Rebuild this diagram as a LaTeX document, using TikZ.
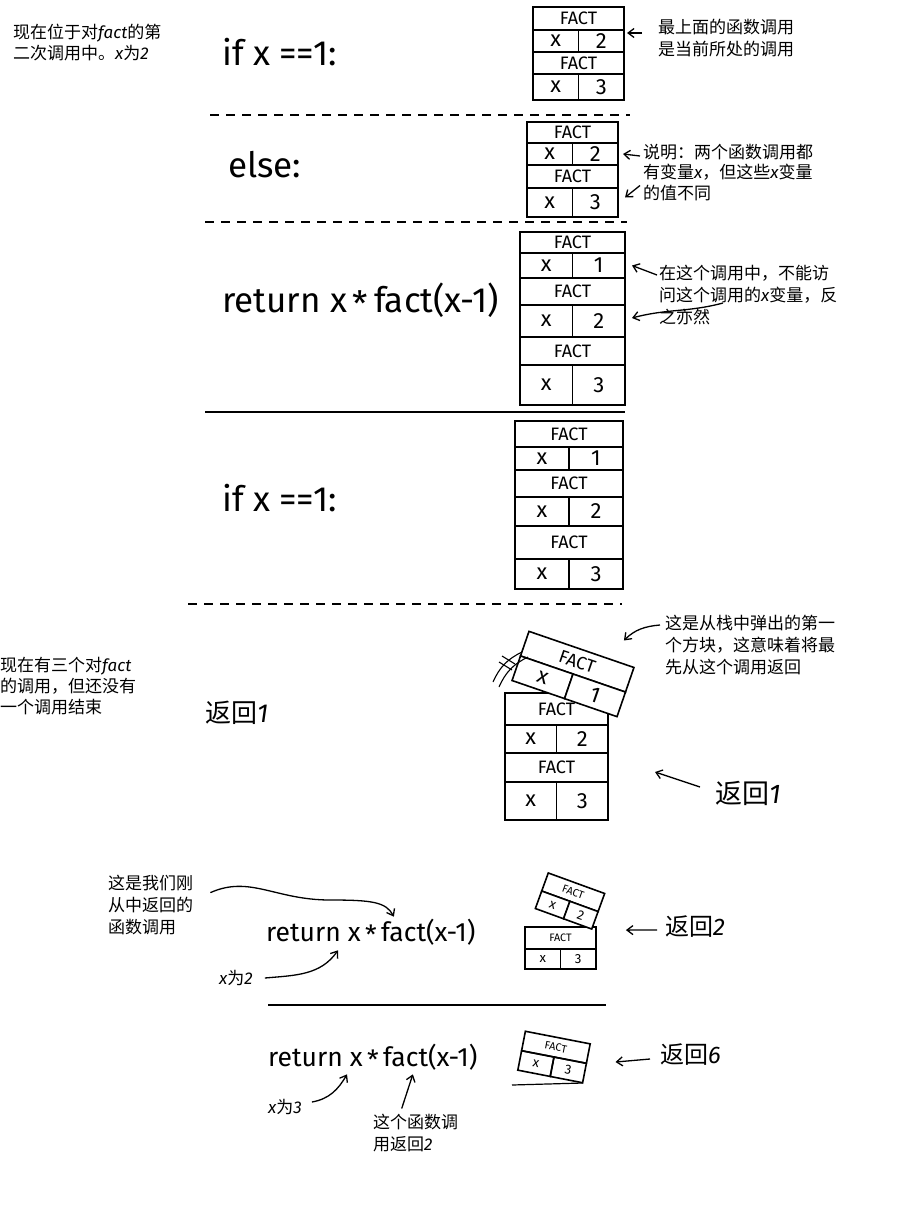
\documentclass[tikz,border=0pt]{standalone}
\usepackage{fontspec}
\setmainfont{Fira Sans}
\newfontfamily\cjk{Noto Sans CJK SC}
\usetikzlibrary{arrows.meta}

% Latin bits inside the Chinese notes
\newcommand{\lat}[1]{{\rmfamily\itshape #1}}
% one call frame: FACT row over an x | value row
\newcommand{\factframe}[6]{%
  \node[frame, minimum width=#3, minimum height=#4, anchor=north] (#1) at #2 {FACT};
  \node[cellval, minimum width=#3/2, minimum height=#5, anchor=north east] (#1x) at (#1.south) {x};
  \node[cellval, minimum width=#3/2, minimum height=#5, anchor=north west] (#1v) at (#1.south) {#6};}

\begin{document}
\begin{tikzpicture}[x=1pt, y=-1pt,
    frame/.style={draw, line width=1.6pt, inner sep=0pt, outer sep=0pt, font=\fontsize{18}{18}\selectfont},
    cellval/.style={frame, font=\fontsize{22}{22}\selectfont},
    code/.style={font=\fontsize{35}{38}\selectfont, inner sep=0pt, anchor=west},
    smallcode/.style={font=\fontsize{26.5}{30}\selectfont, inner sep=0pt, anchor=west},
    note/.style={font=\cjk\fontsize{17}{22}\selectfont, align=left, inner sep=0pt, anchor=north west},
    side/.style={note, font=\cjk\fontsize{17}{21}\selectfont},
    ret/.style={font=\cjk\fontsize{26}{30}\selectfont, inner sep=0pt, anchor=west},
    pointer/.style={-{Straight Barb[length=6pt,width=9pt]}, line width=1.3pt},
    sep/.style={line width=1.4pt, dash pattern=on 9pt off 7pt},
  ]
  \useasboundingbox (0,0) rectangle (906,1208);

  % ---- step 1: if x == 1
  \node[side] (tl) at (13,24) {现在位于对\lat{fact}的第\\二次调用中。\lat{x}为\lat{2}};
  \node[code] (c1) at (222,52) {if x ==1:};
  \factframe{sa}{(578.5,7)}{91}{23}{22}{2}
  \factframe{sb}{(sax.south east)}{91}{22}{26}{3}
  \node[note] (n1) at (658,18.5) {最上面的函数调用\\是当前所处的调用};
  \draw[pointer] ([shift={(-16,14.5)}]n1.north west) -- ([shift={(3,-8)}]sav.east);
  \draw[sep] (210,115) -- (630,115);

  % ---- step 2: else
  \node[code] (c2) at (228,165) {else:};
  \factframe{sc}{(572.5,122)}{91}{21}{22}{2}
  \factframe{sd}{(scx.south east)}{91}{23}{29}{3}
  \node[note, font=\cjk\fontsize{17}{20.5}\selectfont] (n2) at (643,143.5) {说明：两个函数调用都\\有变量\lat{x}，但这些\lat{x}变量\\的值不同};
  \draw[pointer] ([shift={(-3,12.5)}]n2.north west) -- ([xshift=5]scv.east);
  \draw[pointer] ([shift={(-3,42)}]n2.north west) -- ([shift={(7,-5)}]sdv.east);
  \draw[sep] (205,222) -- (627,222);

  % ---- step 3: return x * fact(x-1)
  \node[code] (c3) at (222,300) {return x\,\raisebox{-0.25ex}{*}\,fact(x-1)};
  \factframe{se}{(572.5,232)}{105}{21}{25}{1}
  \factframe{sf}{(sex.south east)}{105}{27}{32}{2}
  \factframe{sg}{(sfx.south east)}{105}{28}{40}{3}
  \node[note] (n3) at (659,264.5) {在这个调用中，不能访\\问这个调用的\lat{x}变量，反\\之亦然};
  \draw[pointer] ([shift={(-2,10.5)}]n3.north west) -- ([xshift=7]sev.east);
  \draw[pointer] ([shift={(64,38.5)}]n3.north west) to[out=195, in=15] ([shift={(7,-3)}]sfv.east);
  \draw[line width=1.4pt] (205,412) -- (625,412);

  % ---- step 4: if x == 1 again
  \node[code] (c4) at (222,498) {if x ==1:};
  \factframe{sh}{(569,421)}{108}{26}{23}{1}
  \factframe{si}{(shx.south east)}{108}{27}{29}{2}
  \factframe{sj}{(six.south east)}{108}{33}{30}{3}
  \draw[sep] (188,604) -- (622,604);

  % ---- step 5: the top frame pops off
  \node[side] (ml) at (0,657) {现在有三个对\lat{fact}\\的调用，但还没有\\一个调用结束};
  \node[ret] (r1) at (205,713) {返回\lat{1}};
  \factframe{sk}{(556.5,693)}{103}{32}{28}{2}
  \factframe{sl}{(skx.south east)}{103}{29}{38}{3}
  \begin{scope}[shift={(573,674)}, rotate=-19, transform shape, frame/.append style={fill=white}]
    \factframe{ta}{(0,-26)}{111}{26}{26}{1}
  \end{scope}
  % motion marks
  \draw[line width=1.1pt] (493,682) to[bend left=20] (522,652);
  \draw[line width=1.1pt] (499,687) to[bend left=20] (528,657);
  \draw[line width=1.1pt] (499,662) -- (512,670) (502,656) -- (515,664);
  \node[note] (n4) at (665,614.5) {这是从栈中弹出的第一\\个方块，这意味着将最\\先从这个调用返回};
  \draw[pointer] ([shift={(-5,10.5)}]n4.north west) to[out=185, in=45] ([shift={(-10,-27)}]ta.north east);
  \node[ret, font=\cjk\fontsize{27}{30}\selectfont] (r2) at (715,793) {返回\lat{1}};
  \draw[pointer] ([shift={(-15,-6)}]r2.west) -- ([shift={(47,4.5)}]sl.east);

  % ---- step 6: back in the call with x = 2
  \node[note] (n5) at (108,874.5) {这是我们刚\\从中返回的\\函数调用};
  \node[smallcode] (c5) at (266,932) {return x\,\raisebox{-0.25ex}{*}\,fact(x-1)};
  \node[note, anchor=west] (n6) at (219,978) {\lat{x}为\lat{2}};
  \draw[pointer] ([shift={(17,-12)}]n5.east) .. controls (250,875) and (275,900) .. (330,900)
    .. controls (372,900) and (386,902) .. ([shift={(23,-2)}]c5.north);
  \draw[pointer] ([xshift=12]n6.east) to[out=5, in=235] ([shift={(72,5)}]c5.south west);
  \begin{scope}[shift={(560.5,927)}, scale=0.6, transform shape]
    \factframe{la}{(0,0)}{118}{37}{33}{3}
  \end{scope}
  \begin{scope}[shift={(570,901)}, rotate=-20, scale=0.6, transform shape, frame/.append style={fill=white}]
    \factframe{tb}{(0,-31.5)}{100}{32}{31}{2}
  \end{scope}
  \node[ret, font=\cjk\fontsize{24}{28}\selectfont] (r3) at (665,927) {返回\lat{2}};
  \draw[pointer] ([shift={(-8,3)}]r3.west) -- ([shift={(30,-8)}]la.east);
  \draw[line width=1.4pt] (268,1005) -- (606,1005);

  % ---- step 7: back in the first call, x = 3
  \node[smallcode] (c6) at (268,1057) {return x\,\raisebox{-0.25ex}{*}\,fact(x-1)};
  \begin{scope}[shift={(554,1057)}, rotate=-11, scale=0.6, transform shape]
    \factframe{lb}{(0,-33)}{110}{33}{33}{3}
  \end{scope}
  \draw[line width=1.2pt] (512,1085) -- (583,1083);
  \node[ret, font=\cjk\fontsize{24}{28}\selectfont] (r4) at (660,1055) {返回\lat{6}};
  \draw[pointer] ([shift={(-10,4)}]r4.west) -- ([shift={(31,-11)}]lbv.east);
  \node[note, anchor=west] (n7) at (268,1107) {\lat{x}为\lat{3}};
  \node[note] (n8) at (373,1113.5) {这个函数调\\用返回\lat{2}};
  \draw[pointer] ([shift={(10,-5)}]n7.east) to[out=10, in=240] ([shift={(79,4)}]c6.south west);
  \draw[pointer] ([shift={(-14,-5)}]n8.north) -- ([shift={(40,4)}]c6.south);
\end{tikzpicture}
\end{document}
